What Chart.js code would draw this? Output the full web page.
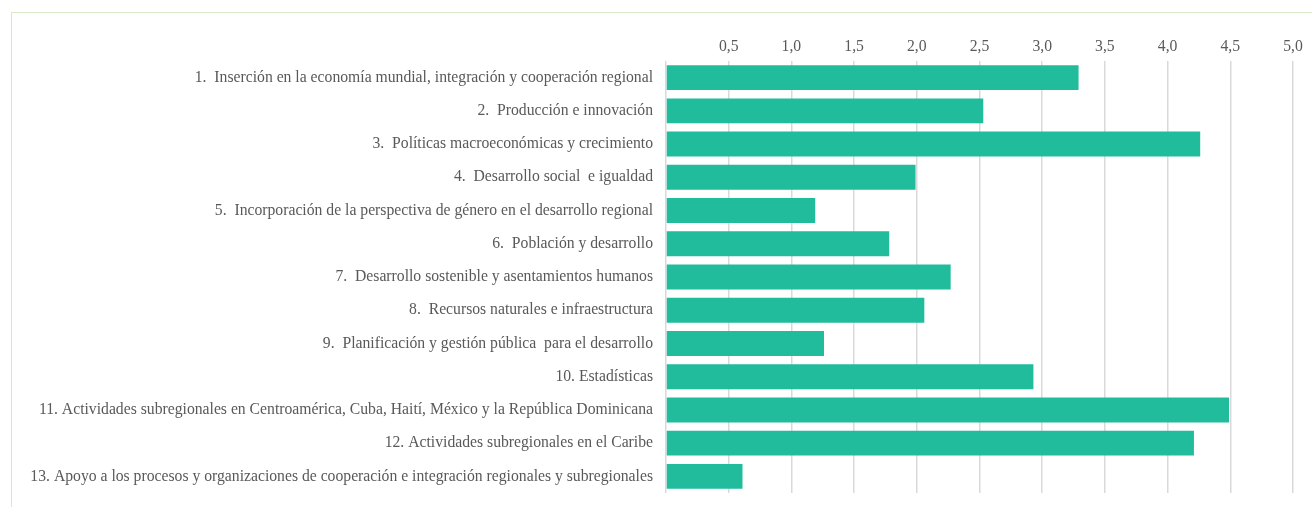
<!DOCTYPE html>
<html>
<head>
<meta charset="utf-8">
<script src="https://cdn.jsdelivr.net/npm/chart.js@4"></script>
<style>
	body { margin: 0; background: #fff; }
	#wrap { position: relative; width: 1312px; height: 507px; }
	#frame {
		position: absolute; left: 11px; top: 12px; right: 0; bottom: 0;
		border-top: 1px solid #d5e8c8; border-left: 1px solid #d5e8c8;
	}
	canvas { position: absolute; left: 0; top: 0; }
</style>
</head>
<body>
<div id="wrap">
	<div id="frame"></div>
	<canvas id="chart" width="1312" height="507"></canvas>
</div>
<script>
// categories (programme areas)
const areas = [
	"1.  Inserción en la economía mundial, integración y cooperación regional",
	"2.  Producción e innovación",
	"3.  Políticas macroeconómicas y crecimiento",
	"4.  Desarrollo social  e igualdad",
	"5.  Incorporación de la perspectiva de género en el desarrollo regional",
	"6.  Población y desarrollo",
	"7.  Desarrollo sostenible y asentamientos humanos",
	"8.  Recursos naturales e infraestructura",
	"9.  Planificación y gestión pública  para el desarrollo",
	"10. Estadísticas",
	"11. Actividades subregionales en Centroamérica, Cuba, Haití, México y la República Dominicana",
	"12. Actividades subregionales en el Caribe",
	"13. Apoyo a los procesos y organizaciones de cooperación e integración regionales y subregionales",
];

// bar values
const values = [3.29, 2.53, 4.26, 1.99, 1.19, 1.78, 2.27, 2.06, 1.26, 2.93, 4.49, 4.21, 0.61];

// x axis range
const axisMin = 0;
const axisMax = 5;
const axisStep = 0.5;

const textColor = "#595959";
const gridColor = "#d9d9d9";

const ctx = document.getElementById("chart").getContext("2d");
new Chart(ctx, {
	type: "bar",
	data: {
		labels: areas,
		datasets: [
			{
				data: values,
				backgroundColor: "#21bc9c",
				borderWidth: 0,
				categoryPercentage: 1,
				barPercentage: 0.75,
			},
		],
	},
	options: {
		indexAxis: "y",
		responsive: false,
		animation: false,
		layout: { padding: { left: 0, right: 19, top: 0, bottom: 14 } },
		plugins: {
			legend: { display: false },
			tooltip: { enabled: false },
		},
		scales: {
			x: {
				position: "top",
				min: axisMin,
				max: axisMax,
				grid: { color: gridColor, lineWidth: 1.5, drawTicks: false },
				border: { display: false },
				ticks: {
					stepSize: axisStep,
					color: textColor,
					padding: 5,
					font: { family: "Liberation Serif", size: 15.7 },
					callback: (v) => (v === 0 ? "" : v.toFixed(1).replace(".", ",")),
				},
				afterFit: (scale) => { scale.height = 61; },
			},
			y: {
				grid: { display: false, drawTicks: false },
				border: { display: false },
				ticks: {
					color: textColor,
					padding: 13,
					font: { family: "Liberation Serif", size: 15.7 },
				},
				afterFit: (scale) => {
					scale.width = 666;
					// labels may hang past the ends; don't reserve room for them
					scale.paddingTop = 0;
					scale.paddingBottom = 0;
				},
			},
		},
	},
});
</script>
</body>
</html>
